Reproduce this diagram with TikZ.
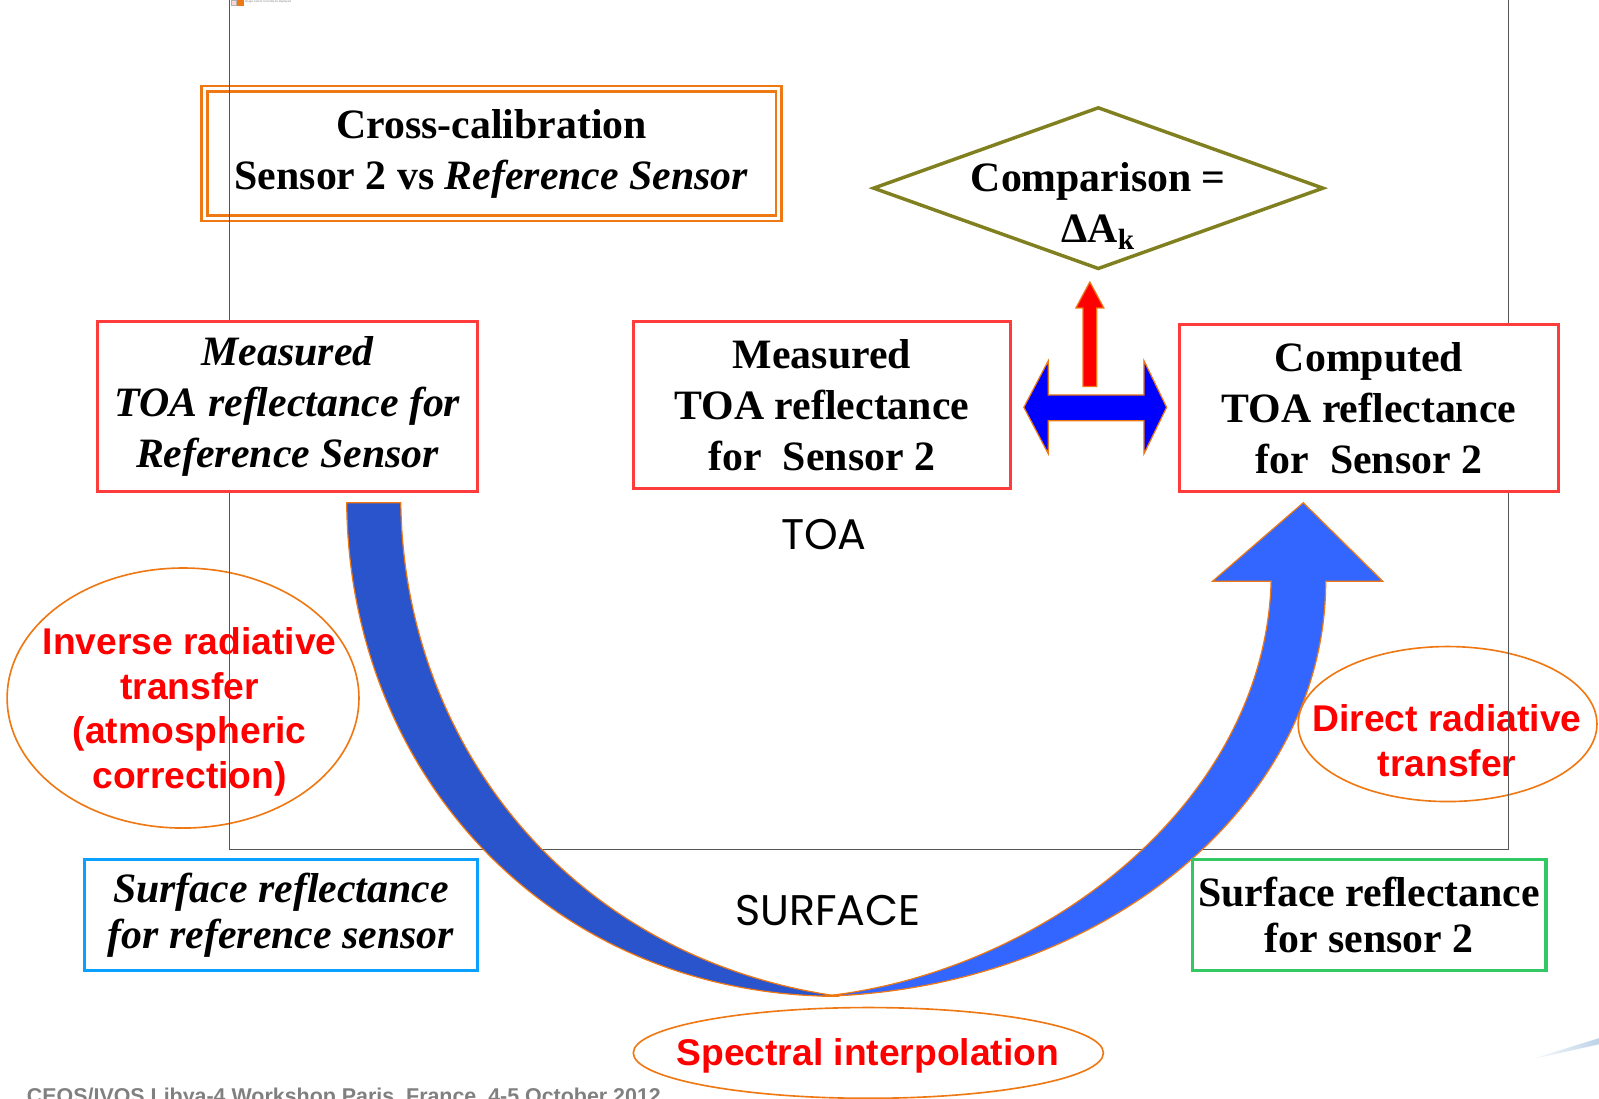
\documentclass[tikz,border=0pt]{standalone}
\usepackage{fontspec}
\setmainfont{Liberation Serif}
\newfontfamily\arialf{Liberation Sans}
\newfontfamily\comicf{Poppins}
\usetikzlibrary{shapes.geometric}
\definecolor{boxred}{RGB}{255,60,60}
\definecolor{orng}{RGB}{238,120,20}
\definecolor{olivec}{RGB}{128,128,32}
\definecolor{darkarrow}{RGB}{42,84,204}
\definecolor{lightarrow}{RGB}{51,102,255}
\definecolor{cyanbox}{RGB}{10,160,255}
\definecolor{greenbox}{RGB}{50,200,100}
\definecolor{redtxt}{RGB}{255,0,0}
\definecolor{framegray}{RGB}{85,85,85}
\definecolor{footgray}{RGB}{128,128,128}
\definecolor{swoosh}{RGB}{190,210,232}
\newcommand\serifbig{\fontsize{20.5pt}{25pt}\selectfont\bfseries}
\newcommand\serifsurf{\fontsize{20.5pt}{22.5pt}\selectfont\bfseries}
\newcommand\redsans{\arialf\fontsize{18.25pt}{22pt}\selectfont\bfseries}
\newcommand\comicsize{\comicf\fontsize{21pt}{21pt}\selectfont}
\begin{document}
\begin{tikzpicture}[x=0.5pt,y=-0.5pt,
  redbox/.style={draw=boxred, line width=1.5pt, fill=white, inner sep=0pt, align=center, font=\serifbig},
  surfbox/.style={line width=1.5pt, inner sep=0pt, align=center, font=\serifsurf},
  oval/.style={draw=orng, line width=0.8pt, ellipse, inner sep=0pt},
  redlabel/.style={text=redtxt, font=\redsans, align=center, inner sep=0pt},
  blockarrow/.style={draw=orng, line width=0.6pt, line join=miter},
  levellabel/.style={font=\comicsize, inner sep=0pt}
]
\useasboundingbox (0,0) rectangle (1568,1077);
\clip (0,0) rectangle (1568,1077);

% tiny placeholder icon at the top
\node[draw=gray!60, fill=red!15, minimum size=2.4pt, inner sep=0pt] (ico) at (229,2.6) {};
\node[fill=orng, minimum size=3.3pt, inner sep=0pt] (icob) at (235.8,3) {};
\node[anchor=west, font=\arialf\fontsize{1.4pt}{1.6pt}\selectfont, inner sep=0pt, text=gray] (icotxt) at (240,2.2) {Image cannot currently be displayed};

% cross-calibration title box
\node[draw=orng, double=white, line width=1.2pt, double distance=1.6pt,
      minimum width=281.5pt, minimum height=63.5pt, inner sep=0pt,
      align=center, font=\serifbig] (cross) at (482,150.5)
      {Cross-calibration\\Sensor 2 vs \textit{Reference Sensor}};

% ellipses with red labels
\node[oval, minimum width=172.5pt, minimum height=127.5pt] (e1) at (179.5,684.5) {};
\node[redlabel] (t1) at (186,698) {Inverse radiative\\transfer\\(atmospheric\\correction)};
\node[oval, minimum width=146.5pt, minimum height=76pt] (e2) at (1419.5,710) {};
\node[redlabel] (t2) at (1419,726) {Direct radiative\\transfer};

% frame
\draw[framegray, line width=0.6pt] (225,-10) -- (225,833) -- (1479,833) -- (1479,-10);

% TOA boxes
\node[redbox, font=\serifbig\itshape, minimum width=186pt, minimum height=83.5pt] (refbox) at (282,398.5)
  {Measured\\TOA reflectance for\\Reference Sensor};
\node[redbox, minimum width=185pt, minimum height=82pt] (midbox) at (806,397)
  {Measured\\TOA reflectance\\for\ \ Sensor 2};
\node[redbox, minimum width=185.5pt, minimum height=82pt] (compbox) at (1342.5,400)
  {Computed\\TOA reflectance\\for\ \ Sensor 2};

% comparison diamond
\node[draw=olivec, line width=1.7pt, diamond, minimum width=221pt, minimum height=79.5pt, inner sep=0pt] (cmp) at (1077,184.5) {};
\node[font=\serifbig, align=center, inner sep=0pt] (cmptxt) at (1077,202) {Comparison =\\ΔA\textsubscript{k}};

% red arrow up to the comparison
\coordinate (ra) at (1068.7,379);
\draw[blockarrow, fill=red] (ra) ++(-6.7,0) -- ++(0,-77) -- ++(-7,0) -- (1068.7,276.5) -- (1082.4,302) -- (1075.4,302) -- (1075.4,379) -- cycle;

% blue double arrow between measured and computed
\draw[blockarrow, fill=blue] (1004,399.4) -- (1028,353.7) -- (1028,387.3) -- (1121.8,387.3) -- (1121.8,353.7)
  -- (1144,399.4) -- (1121.8,445) -- (1121.8,412.5) -- (1028,412.5) -- (1028,445) -- cycle;

% big curved arrows
\draw[blockarrow, fill=darkarrow] (340,493) -- (393,493) .. controls (396,730) and (560,940) .. (823,977)
  .. controls (540,977) and (342,760) .. (340,493) -- cycle;
\draw[blockarrow, fill=lightarrow] (806,977) .. controls (1080,970) and (1300,790) .. (1300,570)
  -- (1356,570) -- (1278,493) -- (1189,570) -- (1246.5,570)
  .. controls (1240,790) and (1020,955) .. (806,977) -- cycle;

% level labels
\node[levellabel] (toa) at (808,524) {TOA};
\node[levellabel] (surf) at (812,893) {SURFACE};

% surface boxes
\node[surfbox, draw=cyanbox, font=\serifsurf\itshape, minimum width=192.5pt, minimum height=54.5pt] (surfref) at (275.5,897.5)
  {Surface reflectance\\for reference sensor};
\node[surfbox, draw=greenbox, minimum width=173.5pt, minimum height=54.5pt] (surf2) at (1342.5,897.5)
  {Surface reflectance\\for sensor 2};

% spectral interpolation
\node[oval, minimum width=230.5pt, minimum height=44.5pt] (e3) at (851.5,1032.5) {};
\node[redlabel] (t3) at (851,1035) {Spectral interpolation};

% footer (cut by the lower edge, as in the reference)
\node[anchor=base west, font=\arialf\bfseries\fontsize{10.5pt}{12pt}\selectfont, text=footgray, inner sep=0pt] (foot) at (26,1082)
  {CEOS/IVOS Libya-4 Workshop Paris, France, 4-5 October 2012};

% decorative swoosh bottom right
\shade[left color=white, right color=swoosh] (1497,1040) -- (1568,1018) -- (1568,1024) -- cycle;
\end{tikzpicture}
\end{document}
